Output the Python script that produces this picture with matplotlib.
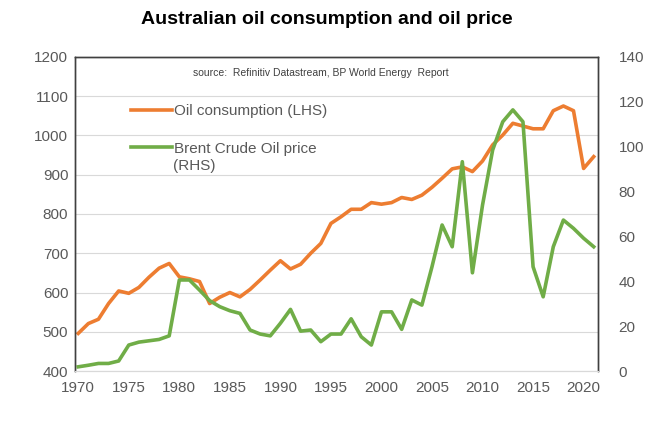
import numpy as np
from matplotlib import pyplot as plt

plt.rcParams['font.family'] = 'Liberation Sans'

years = np.arange(1970, 2022)
oil_consumption = [496, 521, 532, 572, 604, 598, 613, 639, 662, 674,
                   640, 635, 628, 572, 588, 600, 589, 608, 632, 657,
                   681, 660, 672, 700, 725, 776, 793, 812, 812, 829,
                   825, 829, 842, 837, 848, 868, 891, 915, 920, 908,
                   935, 976, 1001, 1031, 1024, 1017, 1017, 1063, 1075, 1063,
                   916, 946]
brent_price = [1.9, 2.6, 3.4, 3.4, 4.5, 11.6, 12.9, 13.5, 14.1, 15.7,
               40.6, 40.6, 36.1, 31.4, 28.7, 26.9, 25.7, 18.3, 16.5, 15.7,
               21.3, 27.5, 17.8, 18.3, 13.1, 16.5, 16.5, 23.3, 15.3, 11.6,
               26.4, 26.4, 18.6, 31.7, 29.4, 46.5, 65.1, 55.4, 93.3, 43.8,
               74.0, 98.5, 111.1, 116.4, 111.1, 46.5, 33.1, 55.4, 67.3, 63.6,
               59.2, 55.4]

grey = '#595959'

f, ax = plt.subplots(figsize=(6.54, 4.28), dpi=100)
f.subplots_adjust(left=0.115, right=0.914, bottom=0.133, top=0.867)
ax2 = ax.twinx()

l1, = ax.plot(years, oil_consumption, color='#ED7D31', lw=2.6, label='Oil consumption (LHS)')
l2, = ax2.plot(years, brent_price, color='#70AD47', lw=2.6, label='Brent Crude Oil price')

ax.set_ylim(400, 1200)
ax.set_yticks(np.arange(400, 1201, 100))
ax2.set_ylim(0, 140)
ax2.set_yticks(np.arange(0, 141, 20))
ax.set_xlim(1969.7, 2021.4)
ax.set_xticks(np.arange(1970, 2021, 5))
ax.grid(axis='y', color='#D9D9D9', lw=0.8)
ax.set_axisbelow(True)

for a in (ax, ax2):
    a.tick_params(length=0, labelsize=11, labelcolor=grey, pad=5)
    for s in ('left', 'right', 'top'):
        a.spines[s].set_color('#404040')
        a.spines[s].set_linewidth(1.0)
    a.spines['bottom'].set_color('#D9D9D9')
ax.tick_params(axis='x', pad=7)
ax2.tick_params(axis='y', pad=15)

ax.legend([l1, l2], [l1.get_label(), l2.get_label()], loc='upper left',
          bbox_to_anchor=(0.095, 0.87), frameon=False, fontsize=11,
          handlelength=2.7, handletextpad=0.1, labelspacing=1.55,
          labelcolor=grey, borderaxespad=0)
ax.text(0.188, 0.653, '(RHS)', transform=ax.transAxes, ha='left', va='center',
        fontsize=11, color=grey)  # second line of the price label

ax.text(0.47, 0.95, 'source:  Refinitiv Datastream, BP World Energy  Report',
        transform=ax.transAxes, ha='center', va='center', fontsize=7.5, color='#404040')

f.suptitle('Australian oil consumption and oil price', fontsize=14, fontweight='bold', y=0.975)

plt.savefig('out.png')
plt.close('all')
